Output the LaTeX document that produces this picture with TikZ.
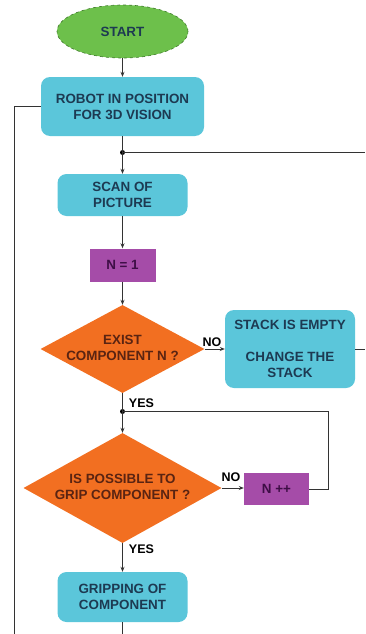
\documentclass[tikz,border=0pt]{standalone}
\usepackage{fontspec}
\setmainfont{Liberation Sans}
\usetikzlibrary{shapes.geometric,arrows.meta}
\definecolor{cyanfill}{HTML}{5BC6DA}
\definecolor{boxtext}{HTML}{1D3A52}
\definecolor{greenfill}{HTML}{6DC04B}
\definecolor{greenline}{HTML}{3E7A2A}
\definecolor{purplefill}{HTML}{A54CA8}
\definecolor{purpletext}{HTML}{3E0E46}
\definecolor{orangefill}{HTML}{F26F21}
\definecolor{orangetext}{HTML}{5A2412}
\definecolor{linecol}{HTML}{333333}
\tikzset{
  proc/.style={rectangle, rounded corners=9pt, fill=cyanfill, text=boxtext, align=center, inner sep=0pt,
    font=\bfseries\fontsize{13.4}{16}\selectfont},
  pbox/.style={rectangle, fill=purplefill, text=purpletext, align=center, inner sep=0pt,
    font=\bfseries\fontsize{13.4}{16}\selectfont},
  decision/.style={diamond, fill=orangefill, text=orangetext, inner sep=0pt, aspect=1.8,
    font=\bfseries\fontsize{13.4}{16}\selectfont},
  term/.style={ellipse, fill=greenfill, draw=greenline, dashed, line width=0.6pt, text=boxtext, inner sep=0pt,
    font=\bfseries\fontsize{13.4}{16}\selectfont},
  conn/.style={draw=linecol, line width=0.8pt},
  arr/.style={conn, -{Stealth[length=5pt,width=4pt]}},
  lbl/.style={font=\bfseries\fontsize{12.5}{14}\selectfont, text=black, inner sep=0pt},
  dot/.style={circle, fill=black, inner sep=0pt, minimum size=5pt}
}
\newcommand{\dtext}[1]{\makebox[0pt]{\begin{tabular}{@{}c@{}}#1\end{tabular}}}
\begin{document}
\begin{tikzpicture}[x=1pt,y=-1pt]
\useasboundingbox (0,0) rectangle (365,634);
\node[term, minimum width=131, minimum height=53] (start) at (122.5,31.5) {START};
\node[proc, minimum width=163, minimum height=59] (robot) at (122.5,106.5) {ROBOT IN POSITION\\FOR 3D VISION};
\node[dot] (j1) at (122.5,152.5) {};
\node[proc, minimum width=130, minimum height=42] (scan) at (122.5,195) {SCAN OF\\PICTURE};
\node[pbox, minimum width=66, minimum height=33] (n1) at (122.5,265) {N = 1};
\node[decision, minimum width=164, minimum height=88] (d1) at (122.5,349) {\dtext{EXIST\\COMPONENT N ?}};
\node[proc, minimum width=130, minimum height=78] (stack) at (290,349) {STACK IS EMPTY\\[16pt]CHANGE THE\\STACK};
\node[dot] (j2) at (122.5,411.5) {};
\node[decision, minimum width=198, minimum height=110] (d2) at (122.5,488) {\dtext{IS POSSIBLE TO\\GRIP COMPONENT ?}};
\node[pbox, minimum width=65, minimum height=32] (npp) at (276.5,489) {N ++};
\node[proc, minimum width=130, minimum height=50] (grip) at (122.5,597) {GRIPPING OF\\COMPONENT};

\coordinate (e1) at (365,152.5);
\coordinate (e2) at (365,349);
\coordinate (lc) at (14,106.5);
\coordinate (lb) at (14,634);
\coordinate (gb) at (122.5,634);
\coordinate (c1) at (328,489);
\coordinate (c2) at (328,411.5);

\node[lbl] at (212,342) {NO};
\node[lbl] at (141.5,403) {YES};
\node[lbl] at (231,477) {NO};
\node[lbl] at (141.5,549) {YES};

\draw[arr] (start) -- (robot);
\draw[conn] (robot) -- (j1.center);
\draw[arr] (j1.center) -- (scan);
\draw[conn] (j1.center) -- (e1);
\draw[arr] (scan) -- (n1);
\draw[arr] (n1) -- (d1);
\draw[arr] (d1.east) -- (stack.west);
\draw[conn] (stack.east) -- (e2);
\draw[conn] (robot.west) -- (lc) -- (lb);
\draw[conn] (d1.south) -- (j2.center);
\draw[arr] (j2.center) -- (d2.north);
\draw[arr] (d2.east) -- (npp.west |- d2.east);
\draw[conn] (npp.east) -- (c1) -- (c2) -- (j2.center);
\draw[arr] (d2.south) -- (grip);
\draw[conn] (grip) -- (gb);
\end{tikzpicture}
\end{document}
